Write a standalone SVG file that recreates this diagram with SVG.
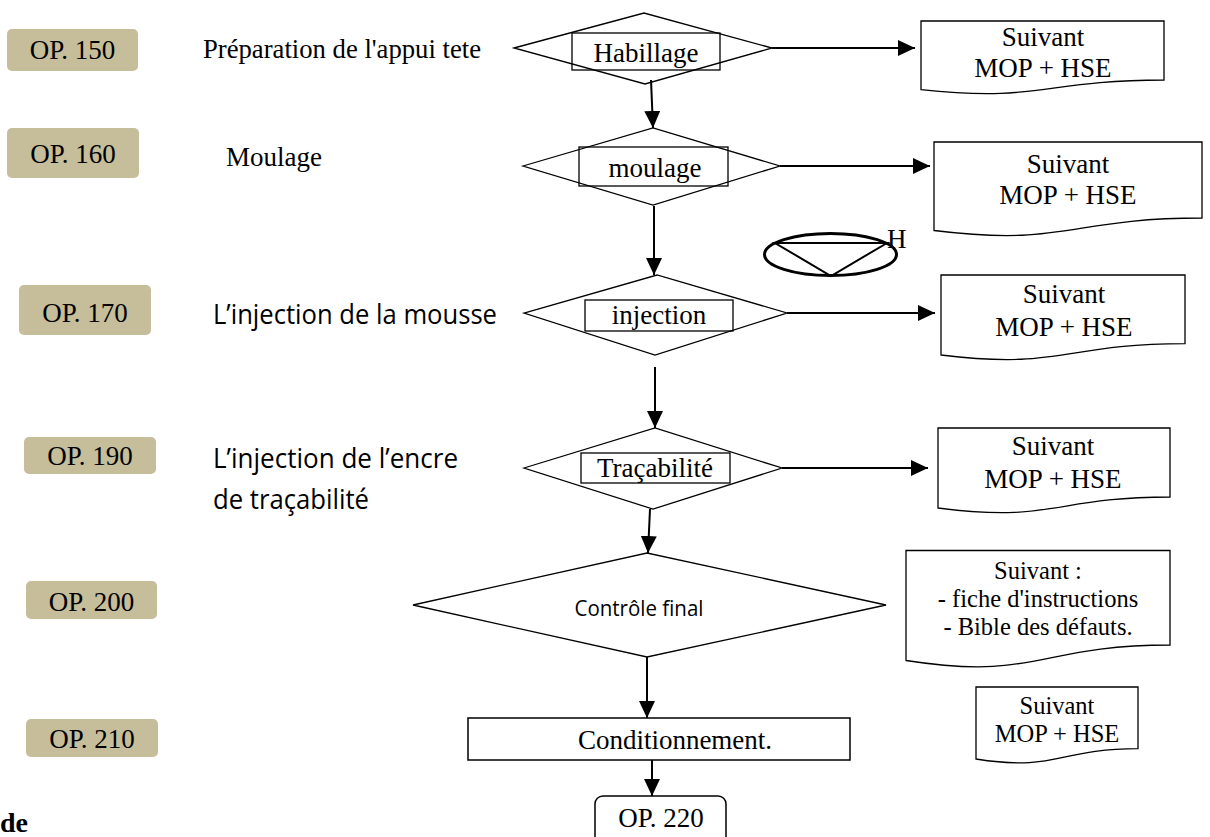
<svg xmlns="http://www.w3.org/2000/svg" width="1210" height="837" viewBox="0 0 1210 837">
<style>
.op{fill:#C6BE9A;}
.t{font-family:"Liberation Serif","Times New Roman",serif;font-size:27px;fill:#000;}
.t24{font-family:"Liberation Serif","Times New Roman",serif;font-size:24.5px;fill:#000;}
.s{font-family:"Open Sans","Noto Sans",sans-serif;fill:#000;}
.sh{fill:#fff;stroke:#000;stroke-width:1.3;}
.doc{fill:#fff;stroke:#000;stroke-width:1.3;}
.c{fill:none;stroke:#000;stroke-width:2;}
</style>
<defs>
<marker id="ah" markerWidth="18" markerHeight="18" refX="17" refY="8" orient="auto" markerUnits="userSpaceOnUse">
<path d="M0,0 L17,8 L0,16 Z" fill="#000"/>
</marker>
</defs>
<rect width="1210" height="837" fill="#fff"/>

<g id="op150"><rect class="op" x="7" y="29" width="131" height="42" rx="5"/><text class="t" x="72.5" y="59" text-anchor="middle">OP. 150</text></g>
<g id="op160"><rect class="op" x="7" y="128" width="132" height="50" rx="5"/><text class="t" x="73" y="163" text-anchor="middle">OP. 160</text></g>
<g id="op170"><rect class="op" x="19" y="285" width="132" height="50" rx="5"/><text class="t" x="85" y="322" text-anchor="middle">OP. 170</text></g>
<g id="op190"><rect class="op" x="24" y="437" width="132" height="37" rx="5"/><text class="t" x="90" y="465" text-anchor="middle">OP. 190</text></g>
<g id="op200"><rect class="op" x="26" y="581" width="131" height="38" rx="5"/><text class="t" x="91.5" y="611" text-anchor="middle">OP. 200</text></g>
<g id="op210"><rect class="op" x="26" y="719" width="132" height="38" rx="5"/><text class="t" x="92" y="748" text-anchor="middle">OP. 210</text></g>

<g id="labels">
<text class="t" x="203" y="58" textLength="278" lengthAdjust="spacingAndGlyphs">Préparation de l'appui tete</text>
<text class="t" x="226" y="166">Moulage</text>
<text class="s" x="213" y="324" font-size="27" textLength="284" lengthAdjust="spacingAndGlyphs">L’injection de la mousse</text>
<text class="s" x="213" y="468" font-size="27" textLength="245" lengthAdjust="spacingAndGlyphs">L’injection de l’encre</text>
<text class="s" x="213" y="509" font-size="27" textLength="156" lengthAdjust="spacingAndGlyphs">de traçabilité</text>
<text x="0" y="832" font-family="Liberation Serif, serif" font-size="28" font-weight="bold">de</text>
</g>

<g id="habillage">
<polygon class="sh" points="514,48 644,13 772,48 645,84"/>
<rect x="572" y="33" width="148" height="37" fill="none" stroke="#000" stroke-width="1.3"/>
<text class="t" x="646" y="62" text-anchor="middle">Habillage</text>
</g>
<g id="moulage">
<polygon class="sh" points="523,166 653,128 780,166 653,205"/>
<rect x="579" y="147" width="149" height="39" fill="none" stroke="#000" stroke-width="1.3"/>
<text class="t" x="655" y="177" text-anchor="middle">moulage</text>
</g>
<g id="injection">
<polygon class="sh" points="524,313 657,275 787,313 655,355"/>
<rect x="585" y="300" width="148" height="31" fill="none" stroke="#000" stroke-width="1.3"/>
<text class="t" x="659" y="324" text-anchor="middle">injection</text>
</g>
<g id="tracabilite">
<polygon class="sh" points="524,468 655,428 782,468 653,509"/>
<rect x="581" y="453" width="149" height="30" fill="none" stroke="#000" stroke-width="1.3"/>
<text class="t" x="655" y="477" text-anchor="middle">Traçabilité</text>
</g>
<g id="controle">
<polygon class="sh" points="413,605 647,553 886,605 647,657"/>
<text class="s" x="639" y="616" font-size="21" text-anchor="middle" textLength="129" lengthAdjust="spacingAndGlyphs">Contrôle final</text>
</g>
<g id="conditionnement">
<rect x="468" y="718" width="382" height="42" fill="#fff" stroke="#000" stroke-width="1.5"/>
<text class="t" x="675" y="749" text-anchor="middle">Conditionnement.</text>
</g>
<g id="op220">
<rect x="595" y="796" width="131" height="60" rx="8" fill="#fff" stroke="#000" stroke-width="1.5"/>
<text class="t" x="661" y="827" text-anchor="middle">OP. 220</text>
</g>

<g id="doc1">
<path class="doc" d="M921,21 H1164 V80 C1042.5,80 1042.5,102.5 921,89.7 Z"/>
<text class="t" x="1043" y="46" text-anchor="middle">Suivant</text>
<text class="t" x="1043" y="77" text-anchor="middle">MOP + HSE</text>
</g>
<g id="doc2">
<path class="doc" d="M934,142 H1202 V218 C1068,218 1068,247 934,230.5 Z"/>
<text class="t" x="1068" y="173" text-anchor="middle">Suivant</text>
<text class="t" x="1068" y="204" text-anchor="middle">MOP + HSE</text>
</g>
<g id="doc3">
<path class="doc" d="M941,275 H1185 V343.7 C1063,343.7 1063,369.8 941,355 Z"/>
<text class="t" x="1064" y="303" text-anchor="middle">Suivant</text>
<text class="t" x="1064" y="336" text-anchor="middle">MOP + HSE</text>
</g>
<g id="doc4">
<path class="doc" d="M938,428 H1170 V497 C1054,497 1054,523 938,508 Z"/>
<text class="t" x="1053" y="455" text-anchor="middle">Suivant</text>
<text class="t" x="1053" y="488" text-anchor="middle">MOP + HSE</text>
</g>
<g id="doc5">
<path class="doc" d="M906,550.5 H1170 V645 C1038,645 1038,681 906,660.5 Z"/>
<text class="t24" x="1038" y="579" text-anchor="middle">Suivant :</text>
<text class="t24" x="1038" y="607" text-anchor="middle">- fiche d'instructions</text>
<text class="t24" x="1038" y="635" text-anchor="middle">- Bible des défauts.</text>
</g>
<g id="doc6">
<path class="doc" d="M976,687 H1138 V748.7 C1057,748.7 1057,772 976,759 Z"/>
<text class="t24" x="1057" y="714" text-anchor="middle">Suivant</text>
<text class="t24" x="1057" y="742" text-anchor="middle">MOP + HSE</text>
</g>

<g id="hold">
<ellipse cx="830.5" cy="254.5" rx="66" ry="21" fill="none" stroke="#000" stroke-width="3"/>
<path d="M775,243 H887 L831,276 Z" fill="none" stroke="#000" stroke-width="2"/>
<text class="t" x="887" y="248">H</text>
</g>

<g id="connectors">
<line class="c" x1="772" y1="48" x2="915" y2="48" marker-end="url(#ah)"/>
<line class="c" x1="780" y1="166" x2="930" y2="166" marker-end="url(#ah)"/>
<line class="c" x1="787" y1="313" x2="935" y2="313" marker-end="url(#ah)"/>
<line class="c" x1="782" y1="468" x2="928" y2="468" marker-end="url(#ah)"/>
<line class="c" x1="651" y1="80" x2="653" y2="128" marker-end="url(#ah)"/>
<line class="c" x1="654" y1="206" x2="654" y2="275" marker-end="url(#ah)"/>
<line class="c" x1="655" y1="367" x2="655" y2="428" marker-end="url(#ah)"/>
<line class="c" x1="650" y1="509" x2="648" y2="553" marker-end="url(#ah)"/>
<line class="c" x1="647" y1="657" x2="647" y2="718" marker-end="url(#ah)"/>
<line class="c" x1="652" y1="760" x2="652" y2="796" marker-end="url(#ah)"/>
</g>
</svg>
